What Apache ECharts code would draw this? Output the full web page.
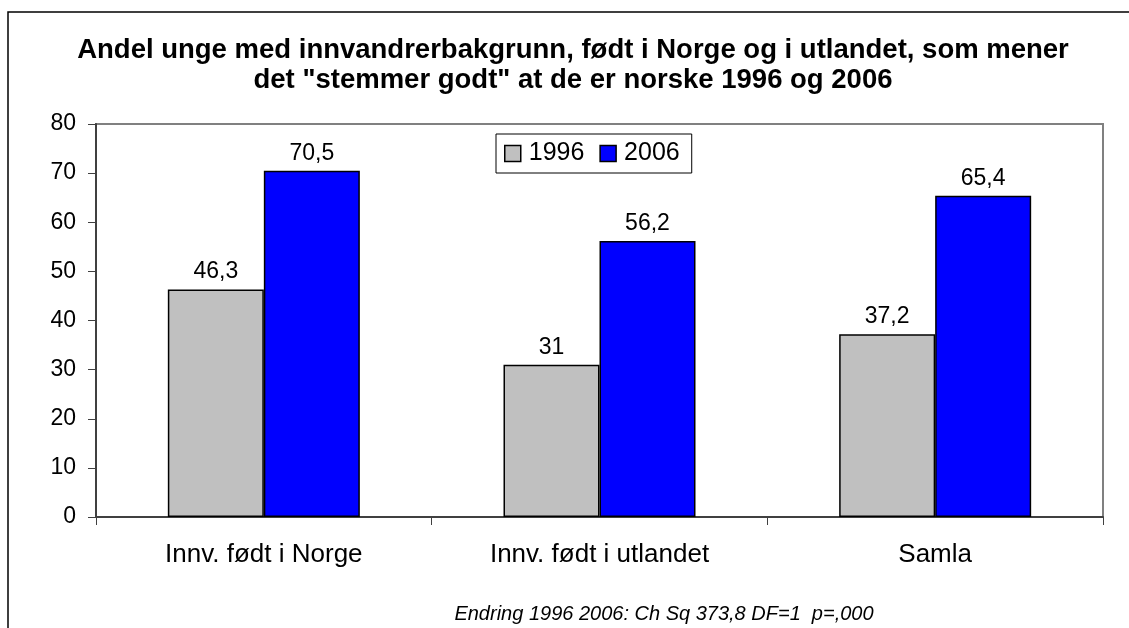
<!DOCTYPE html>
<html>
<head>
<meta charset="utf-8">
<script src="https://cdn.jsdelivr.net/npm/echarts@6/dist/echarts.min.js"></script>
<style>
  html, body { margin: 0; padding: 0; background: #fff; }
  #chart { width: 1129px; height: 628px; }
</style>
</head>
<body>
<div id="chart"></div>
<script>
const categories = ["Innv. født i Norge", "Innv. født i utlandet", "Samla"];
const values1996 = [46.3, 31, 37.2];
const values2006 = [70.5, 56.2, 65.4];
const seriesNames = ["1996", "2006"];
const colors = ["#C0C0C0", "#0000FF"];

const chart = echarts.init(document.getElementById("chart"));
const font = "Liberation Sans, Arial, sans-serif";

// norsk desimalkomma på etikettene
const fmt = (p) => String(p.value).replace(".", ",");

const mkSeries = (name, data, i) => ({
  name: name,
  type: "bar",
  data: data,
  barWidth: 96,
  barGap: "0%",
  itemStyle: { color: colors[i], borderColor: "#000", borderWidth: 1.5 },
  label: {
    show: true,
    position: "top",
    distance: 6,
    formatter: fmt,
    color: "#000",
    fontFamily: font,
    fontSize: 23,
  },
});

chart.setOption({
  animation: false,
  textStyle: { fontFamily: font },
  title: [
    {
      text: "Andel unge med innvandrerbakgrunn, født i Norge og i utlandet, som mener\ndet \"stemmer godt\" at de er norske 1996 og 2006",
      left: 568,
      top: 30,
      textAlign: "center",
      textStyle: { fontSize: 27.5, fontWeight: "bold", color: "#000", lineHeight: 30, fontFamily: font },
    },
    {
      text: "Endring 1996 2006: Ch Sq 373,8 DF=1  p=,000",
      left: 659,
      top: 599,
      textAlign: "center",
      textStyle: { fontSize: 20, fontStyle: "italic", fontWeight: "normal", color: "#000", fontFamily: font },
    },
  ],
  legend: {
    data: seriesNames,
    left: 496,
    top: 134,
    padding: [7, 12, 7, 8],
    itemGap: 15,
    itemWidth: 16,
    itemHeight: 16,
    itemStyle: { borderColor: "#000", borderWidth: 1.5 },
    borderColor: "#000",
    borderWidth: 1,
    icon: "rect",
    textStyle: { fontSize: 25, color: "#000", fontFamily: font, padding: [0, 0, 0, 3] },
  },
  graphic: [
    {
      type: "rect",
      shape: { x: 8, y: 12, width: 1300, height: 800 },
      style: { fill: null, stroke: "#000", lineWidth: 1.5 },
      silent: true,
    },
  ],
  grid: {
    left: 96,
    right: 26,
    top: 124,
    bottom: 111,
    show: true,
    borderColor: "#808080",
    borderWidth: 2,
  },
  xAxis: {
    type: "category",
    data: categories,
    axisLine: { lineStyle: { color: "#404040", width: 2 } },
    axisTick: { show: true, length: 8, lineStyle: { color: "#404040" } },
    axisLabel: { fontSize: 26, color: "#000", margin: 25, fontFamily: font },
  },
  yAxis: {
    type: "value",
    min: 0,
    max: 80,
    interval: 10,
    axisLine: { show: true, lineStyle: { color: "#404040", width: 2 } },
    axisTick: { show: true, length: 8, lineStyle: { color: "#404040" } },
    splitLine: { show: false },
    axisLabel: { fontSize: 23, color: "#000", margin: 20, fontFamily: font },
  },
  series: [
    mkSeries(seriesNames[0], values1996, 0),
    mkSeries(seriesNames[1], values2006, 1),
  ],
});
</script>
</body>
</html>
